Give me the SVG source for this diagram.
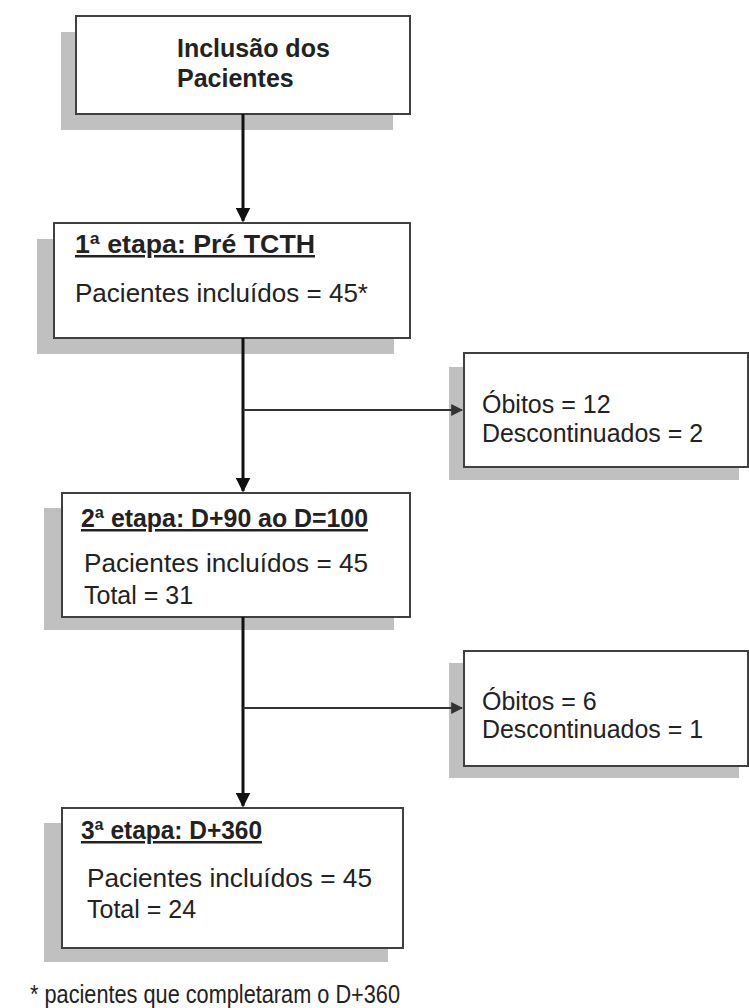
<svg xmlns="http://www.w3.org/2000/svg" width="749" height="1008" viewBox="0 0 749 1008">
<defs>
<style>
.shadow{fill:#c0c0c0;stroke:none}
.box{fill:#ffffff;stroke:#404040;stroke-width:2}
.t{font-family:"Liberation Sans",Arial,sans-serif;font-size:25px;fill:#222}
.b{font-weight:bold}
.u{text-decoration:underline}
.v{stroke:#111;stroke-width:3;fill:none}
.h{stroke:#333;stroke-width:2;fill:none}
</style>
<marker id="arr" viewBox="0 0 10 10" refX="9" refY="5" markerWidth="5" markerHeight="5" markerUnits="strokeWidth" orient="auto">
<path d="M0,0 L10,5 L0,10 z" fill="#111"/>
</marker>
<marker id="arrh" viewBox="0 0 10 10" refX="9" refY="5" markerWidth="6" markerHeight="6" markerUnits="strokeWidth" orient="auto">
<path d="M0,0 L10,5 L0,10 z" fill="#333"/>
</marker>
</defs>
<g id="inclusao">
<rect class="shadow" x="61" y="32" width="332" height="98"/>
<rect class="box" x="76" y="16" width="334" height="98"/>
<text class="t b" x="177" y="57">Inclusão dos</text>
<text class="t b" x="177" y="87">Pacientes</text>
</g>
<g id="etapa1">
<rect class="shadow" x="37" y="239" width="357" height="115"/>
<rect class="box" x="54" y="223" width="356" height="115"/>
<text class="t b u" x="75" y="253" textLength="240" lengthAdjust="spacingAndGlyphs">1ª etapa: Pré TCTH</text>
<text class="t" x="75" y="302" textLength="293" lengthAdjust="spacingAndGlyphs">Pacientes incluídos = 45*</text>
</g>
<g id="obitos1">
<rect class="shadow" x="449" y="367" width="290" height="113"/>
<rect class="box" x="464" y="353" width="284" height="114"/>
<text class="t" x="482" y="413">Óbitos = 12</text>
<text class="t" x="482" y="442" textLength="221" lengthAdjust="spacingAndGlyphs">Descontinuados = 2</text>
</g>
<g id="etapa2">
<rect class="shadow" x="44" y="508" width="350" height="122"/>
<rect class="box" x="62" y="493" width="348" height="124"/>
<text class="t b u" x="81" y="527" textLength="287" lengthAdjust="spacingAndGlyphs">2ª etapa: D+90 ao D=100</text>
<text class="t" x="84" y="572" textLength="284" lengthAdjust="spacingAndGlyphs">Pacientes incluídos = 45</text>
<text class="t" x="84" y="604">Total = 31</text>
</g>
<g id="obitos2">
<rect class="shadow" x="449" y="663" width="290" height="115"/>
<rect class="box" x="464" y="651" width="284" height="115"/>
<text class="t" x="482" y="710">Óbitos = 6</text>
<text class="t" x="482" y="738" textLength="221" lengthAdjust="spacingAndGlyphs">Descontinuados = 1</text>
</g>
<g id="etapa3">
<rect class="shadow" x="44" y="823" width="344" height="139"/>
<rect class="box" x="62" y="808" width="341" height="140"/>
<text class="t b u" x="81" y="839" textLength="181" lengthAdjust="spacingAndGlyphs">3ª etapa: D+360</text>
<text class="t" x="87" y="887" textLength="285" lengthAdjust="spacingAndGlyphs">Pacientes incluídos = 45</text>
<text class="t" x="87" y="918">Total = 24</text>
</g>
<g id="nota">
<text class="t" x="30" y="1003" style="font-size:26px" textLength="370" lengthAdjust="spacingAndGlyphs">* pacientes que completaram o D+360</text>
</g>
<g id="connectors">
<line class="v" x1="243" y1="114" x2="243" y2="221" marker-end="url(#arr)"/>
<line class="v" x1="243" y1="338" x2="243" y2="491" marker-end="url(#arr)"/>
<line class="h" x1="243" y1="410" x2="462" y2="410" marker-end="url(#arrh)"/>
<line class="v" x1="243" y1="617" x2="243" y2="806" marker-end="url(#arr)"/>
<line class="h" x1="243" y1="708" x2="462" y2="708" marker-end="url(#arrh)"/>
</g>
</svg>
